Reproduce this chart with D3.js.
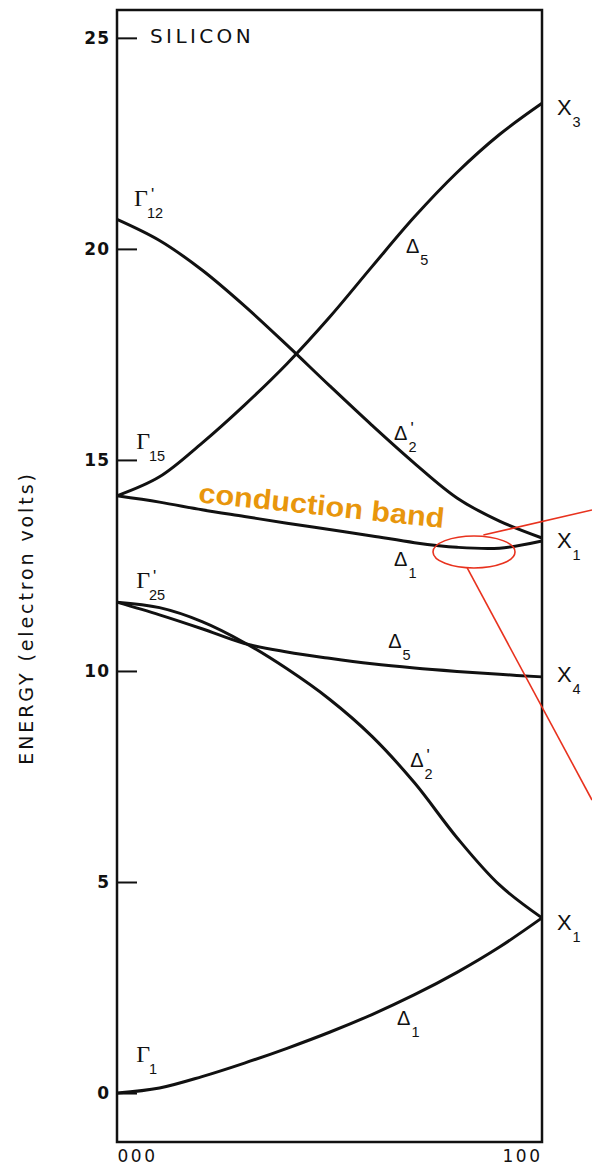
<!DOCTYPE html>
<html><head><meta charset="utf-8">
<script src="https://cdn.jsdelivr.net/npm/d3@7"></script>
<style>body{margin:0;background:#fff}</style>
</head><body><svg id="c" width="592" height="1165"></svg>
<script>
// wave vector along Gamma -> X (fraction of 2pi/a)
const kPoints = [0, 0.1, 0.2, 0.3, 0.4, 0.5, 0.6, 0.7, 0.8, 0.9, 1.0];
// energies in eV
const bandG1_D1   = [0, 0.12, 0.39, 0.71, 1.06, 1.44, 1.86, 2.33, 2.86, 3.46, 4.15];
const bandG25_D2p = [11.63, 11.50, 11.17, 10.67, 10.05, 9.33, 8.45, 7.35, 6.05, 4.93, 4.15];
const bandG25_D5  = [11.63, 11.33, 11.00, 10.65, 10.45, 10.30, 10.17, 10.07, 9.99, 9.92, 9.86];
const bandG15_D1  = [14.15, 14.00, 13.82, 13.66, 13.50, 13.35, 13.20, 13.04, 12.93, 12.91, 13.08];
const bandG15_D5  = [14.15, 14.60, 15.40, 16.30, 17.28, 18.38, 19.58, 20.76, 21.81, 22.71, 23.45];
const bandG12_D2p = [20.70, 20.20, 19.50, 18.65, 17.72, 16.76, 15.82, 14.92, 14.10, 13.55, 13.15];
const bands = [bandG1_D1, bandG25_D2p, bandG25_D5, bandG15_D1, bandG15_D5, bandG12_D2p];

const yTickValues = [0, 5, 10, 15, 20, 25];
const xTickValues = [0, 1];
const xTickLabels = ["000", "100"];
const yAxisTitle = "ENERGY (electron volts)";
const chartTitle = "SILICON";
const annotationText = "conduction band";

// symmetry-point / branch labels: [glyph, subscript, prime, k, E]
const symbolLabels = [
  ["Γ", "12", true, 0.040, 21.02],
  ["Γ", "15", false, 0.045, 15.26],
  ["Γ", "25", true, 0.045, 11.97],
  ["Γ", "1", false, 0.045, 0.73],
  ["Δ", "5", false, 0.680, 19.90],
  ["Δ", "2", true, 0.652, 15.47],
  ["Δ", "1", false, 0.652, 12.49],
  ["Δ", "5", false, 0.638, 10.55],
  ["Δ", "2", true, 0.690, 7.73],
  ["Δ", "1", false, 0.659, 1.61],
  ["X", "3", false, 1.035, 23.18],
  ["X", "1", false, 1.035, 12.91],
  ["X", "4", false, 1.035, 9.74],
  ["X", "1", false, 1.035, 3.86]
];

const svg = d3.select("#c");
const x = d3.scaleLinear().domain([0, 1]).range([117, 542]);
const y = d3.scaleLinear().domain([-1.16, 25.66]).range([1142, 10]);

// frame
svg.append("rect")
  .attr("x", x(0)).attr("y", y(25.66))
  .attr("width", x(1) - x(0)).attr("height", y(-1.16) - y(25.66))
  .attr("fill", "none").attr("stroke", "#111").attr("stroke-width", 2.5);

// y axis with inward ticks
const yAxis = d3.axisLeft(y).tickValues(yTickValues)
  .tickSizeInner(-20).tickSizeOuter(0).tickPadding(7)
  .tickFormat(d3.format("d"));
const gy = svg.append("g").attr("transform", `translate(${x(0)},0)`).call(yAxis);
gy.select(".domain").remove();
gy.selectAll(".tick line").attr("stroke", "#111").attr("stroke-width", 2);
gy.selectAll(".tick text")
  .attr("font-family", "DejaVu Sans").attr("font-weight", "bold")
  .attr("font-size", 17).attr("fill", "#111").attr("letter-spacing", 1);

// x axis labels
const xAxis = d3.axisBottom(x).tickValues(xTickValues).tickSize(0).tickPadding(8)
  .tickFormat((d, i) => xTickLabels[i]);
const gx = svg.append("g").attr("transform", `translate(0,${y(-1.16)})`).call(xAxis);
gx.select(".domain").remove();
gx.selectAll(".tick text")
  .attr("font-family", "DejaVu Sans").attr("font-size", 17)
  .attr("fill", "#111").attr("letter-spacing", 2.5)
  .attr("text-anchor", (d, i) => i === 0 ? "start" : "end");

// y axis title
svg.append("text")
  .attr("transform", `translate(33,618) rotate(-90)`)
  .attr("text-anchor", "middle")
  .attr("font-family", "DejaVu Sans").attr("font-size", 19)
  .attr("letter-spacing", 2.9).attr("fill", "#111")
  .text(yAxisTitle);

// title
svg.append("text")
  .attr("x", x(0) + 33).attr("y", y(25) + 5)
  .attr("font-family", "DejaVu Sans").attr("font-size", 20)
  .attr("letter-spacing", 3.4).attr("fill", "#111")
  .text(chartTitle);

// bands
const line = d3.line().x((d, i) => x(kPoints[i])).y(d => y(d)).curve(d3.curveCatmullRom.alpha(0.5));
svg.selectAll(".band").data(bands).join("path")
  .attr("class", "band")
  .attr("d", d => line(d))
  .attr("fill", "none").attr("stroke", "#111").attr("stroke-width", 3)
  .attr("stroke-linejoin", "round");

// labels
symbolLabels.forEach(([g, sub, prime, k, E]) => {
  const px = x(k), py = y(E);
  const isG = g === "Γ";
  const main = svg.append("text")
    .attr("x", px).attr("y", py)
    .attr("font-family", isG ? "Liberation Serif" : "Liberation Sans")
    .attr("font-size", isG ? 24 : (g === "Δ" ? 20 : 22))
    .attr("fill", "#111").text(g);
  const w = main.node().getComputedTextLength();
  svg.append("text")
    .attr("x", px + w + (isG ? -1 : 1)).attr("y", py + 12)
    .attr("font-family", "Liberation Sans").attr("font-size", 14.5)
    .attr("fill", "#111").text(sub);
  if (prime) {
    svg.append("text")
      .attr("x", px + w + 3).attr("y", py - 6)
      .attr("font-family", "Liberation Sans").attr("font-size", 17)
      .attr("fill", "#111").text("'");
  }
});

// conduction band annotation
svg.append("text")
  .attr("transform", `translate(${x(0.19)},${y(14.0)}) rotate(6)`)
  .attr("font-family", "Liberation Sans").attr("font-weight", "bold")
  .attr("font-size", 28).attr("fill", "#E8960C")
  .attr("textLength", 247).attr("lengthAdjust", "spacingAndGlyphs")
  .text(annotationText);

const red = "#E8321E";
const ellipseK = 0.84, ellipseE = 12.82;
svg.append("ellipse")
  .attr("cx", x(ellipseK)).attr("cy", y(ellipseE))
  .attr("rx", 41).attr("ry", 16)
  .attr("fill", "none").attr("stroke", red).attr("stroke-width", 1.6);
svg.append("line")
  .attr("x1", x(0.862)).attr("y1", y(13.22)).attr("x2", 592).attr("y2", 510)
  .attr("stroke", red).attr("stroke-width", 1.6);
svg.append("line")
  .attr("x1", x(0.824)).attr("y1", y(12.44)).attr("x2", 592).attr("y2", 800)
  .attr("stroke", red).attr("stroke-width", 1.6);
</script>
</body></html>
